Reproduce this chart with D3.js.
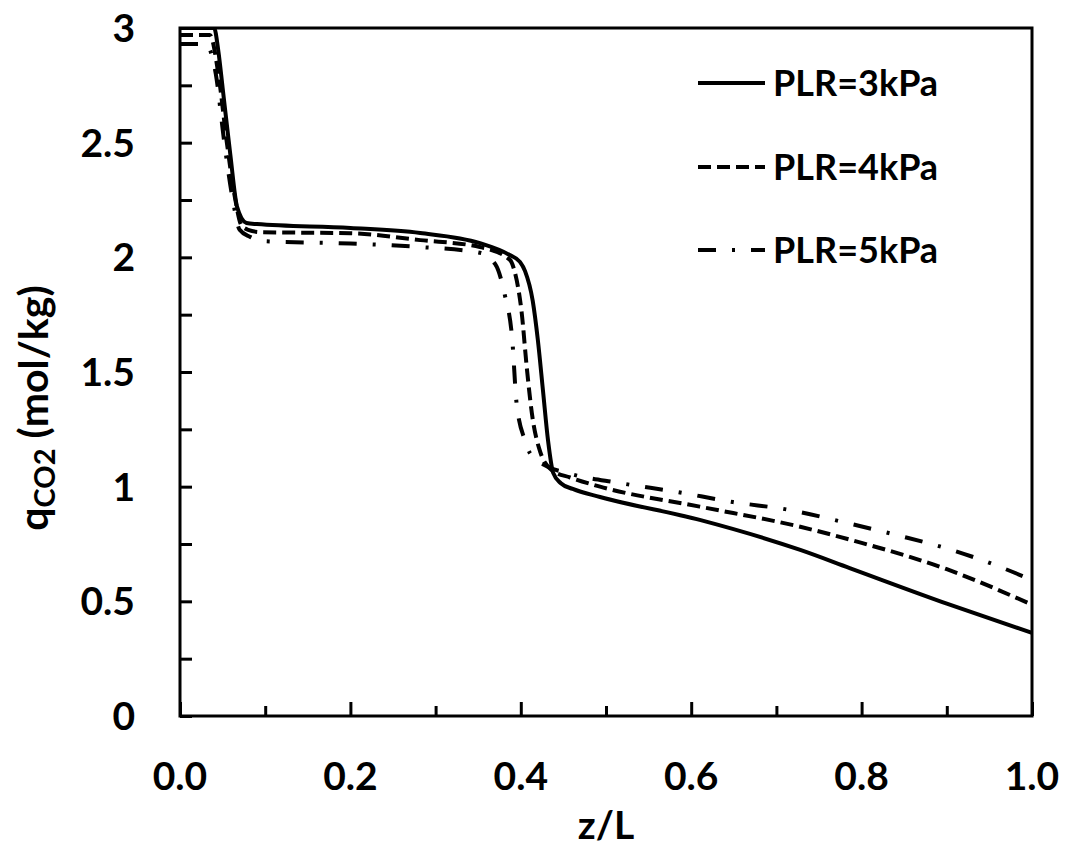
<!DOCTYPE html>
<html>
<head>
<meta charset="utf-8">
<script src="https://cdn.jsdelivr.net/npm/d3@7"></script>
<style>
body { margin: 0; background: #fff; }
text { font-family: Lato, "Open Sans", sans-serif; font-weight: bold; fill: #000; }
</style>
</head>
<body>
<script>
// PLR = 3 kPa (solid)
var z3 = [0, 0.04, 0.045, 0.05, 0.059, 0.067, 0.078, 0.09, 0.2, 0.282, 0.352, 0.387, 0.399, 0.405, 0.414, 0.42, 0.426, 0.432, 0.438, 0.447, 0.461, 0.493, 0.61, 0.728, 0.786, 0.9, 1.0];
var q3 = [3.0, 3.0, 2.9, 2.74, 2.45, 2.22, 2.15, 2.145, 2.128, 2.106, 2.062, 2.01, 1.98, 1.94, 1.81, 1.64, 1.42, 1.2, 1.06, 1.015, 0.99, 0.955, 0.855, 0.724, 0.645, 0.49, 0.362];
// PLR = 4 kPa (dashed)
var z4 = [0, 0.035, 0.045, 0.055, 0.065, 0.072, 0.08, 0.094, 0.2, 0.282, 0.352, 0.387, 0.393, 0.401, 0.407, 0.413, 0.423, 0.437, 0.458, 0.493, 0.61, 0.728, 0.8, 0.9, 1.0];
var q4 = [2.97, 2.97, 2.8, 2.5, 2.25, 2.14, 2.12, 2.11, 2.105, 2.075, 2.045, 1.99, 1.935, 1.76, 1.52, 1.32, 1.15, 1.07, 1.04, 1.0, 0.913, 0.825, 0.755, 0.64, 0.485];
// PLR = 5 kPa (dash-dot)
var z5 = [0, 0.03, 0.042, 0.052, 0.062, 0.07, 0.082, 0.1, 0.2, 0.282, 0.352, 0.37, 0.381, 0.39, 0.395, 0.405, 0.411, 0.43, 0.454, 0.516, 0.583, 0.649, 0.716, 0.778, 0.841, 0.906, 0.966, 1.0];
var q5 = [2.93, 2.93, 2.8, 2.5, 2.25, 2.12, 2.09, 2.07, 2.06, 2.045, 2.02, 1.97, 1.84, 1.64, 1.365, 1.2, 1.145, 1.09, 1.06, 1.016, 0.977, 0.933, 0.898, 0.846, 0.789, 0.724, 0.645, 0.593];

var seriesNames = ["PLR=3kPa", "PLR=4kPa", "PLR=5kPa"];
var xTicks = [0, 0.2, 0.4, 0.6, 0.8, 1.0];
var yTicks = [0, 0.5, 1, 1.5, 2, 2.5, 3];

var W = 1070, H = 852;
var mLeft = 180, mTop = 28, pw = 852, ph = 688;

var x = d3.scaleLinear().domain([0, 1]).range([mLeft, mLeft + pw]);
var y = d3.scaleLinear().domain([0, 3]).range([mTop + ph, mTop]);

var svg = d3.select("body").append("svg")
    .attr("width", W)
    .attr("height", H);

svg.append("clipPath").attr("id", "clip")
  .append("rect")
    .attr("x", mLeft).attr("y", mTop)
    .attr("width", pw).attr("height", ph);

var dashes = [null, "13,6", "18,16,3,16"];
var series = [[z3, q3], [z4, q4], [z5, q5]];

var line = d3.line()
    .x(d => x(d[0]))
    .y(d => y(d[1]))
    .curve(d3.curveMonotoneX);

series.forEach(function(s, i) {
  var pts = s[0].map((v, j) => [v, s[1][j]]);
  svg.append("path")
      .attr("clip-path", "url(#clip)")
      .attr("d", line(pts))
      .attr("fill", "none")
      .attr("stroke", "#000")
      .attr("stroke-width", 4)
      .attr("stroke-dasharray", dashes[i]);
});

// ticks (inward)
var xAxis = d3.axisTop(x)
    .tickValues(d3.range(0, 1.0001, 0.1))
    .tickSize(0)
    .tickFormat("");
var gx = svg.append("g")
    .attr("transform", `translate(0,${mTop + ph})`)
    .call(xAxis);
gx.select(".domain").remove();
gx.selectAll(".tick line")
    .attr("y2", (d, i) => i % 2 ? -10 : -14)
    .attr("stroke", "#000")
    .attr("stroke-width", 3);

var yAxis = d3.axisRight(y)
    .tickValues(d3.range(0, 3.0001, 0.25))
    .tickSize(12)
    .tickFormat("");
var gy = svg.append("g")
    .attr("transform", `translate(${mLeft},0)`)
    .call(yAxis);
gy.select(".domain").remove();
gy.selectAll(".tick line")
    .attr("stroke", "#000")
    .attr("stroke-width", 3);

// frame
svg.append("rect")
    .attr("x", mLeft).attr("y", mTop)
    .attr("width", pw).attr("height", ph)
    .attr("fill", "none")
    .attr("stroke", "#000")
    .attr("stroke-width", 3);

// tick labels
svg.selectAll(".xl").data(xTicks).enter().append("text")
    .attr("x", d => x(d))
    .attr("y", mTop + ph + 60)
    .attr("dy", "0.36em")
    .attr("text-anchor", "middle")
    .attr("font-size", 39)
    .text(d => d.toFixed(1));

svg.selectAll(".yl").data(yTicks).enter().append("text")
    .attr("x", 135)
    .attr("y", d => y(d))
    .attr("dy", "0.36em")
    .attr("text-anchor", "end")
    .attr("font-size", 39)
    .text(d => d);

// axis titles
svg.append("text")
    .attr("x", mLeft + pw / 2)
    .attr("y", 825)
    .attr("dy", "0.36em")
    .attr("text-anchor", "middle")
    .attr("font-size", 39)
    .text("z/L");

var yt = svg.append("text")
    .attr("transform", "translate(48,408) rotate(-90)")
    .attr("text-anchor", "middle")
    .attr("font-size", 41);
yt.append("tspan").text("q");
yt.append("tspan").attr("font-size", 29).attr("dy", 7).text("CO2");
yt.append("tspan").attr("dy", -7).text(" (mol/kg)");

// legend
var legY = [83, 167, 250];
seriesNames.forEach(function(name, i) {
  svg.append("line")
      .attr("x1", 698).attr("x2", 765)
      .attr("y1", legY[i]).attr("y2", legY[i])
      .attr("stroke", "#000")
      .attr("stroke-width", 4)
      .attr("stroke-dasharray", dashes[i]);
  svg.append("text")
      .attr("x", 773)
      .attr("y", legY[i])
      .attr("dy", "0.36em")
      .attr("font-size", 36)
      .text(name);
});
</script>
</body>
</html>
